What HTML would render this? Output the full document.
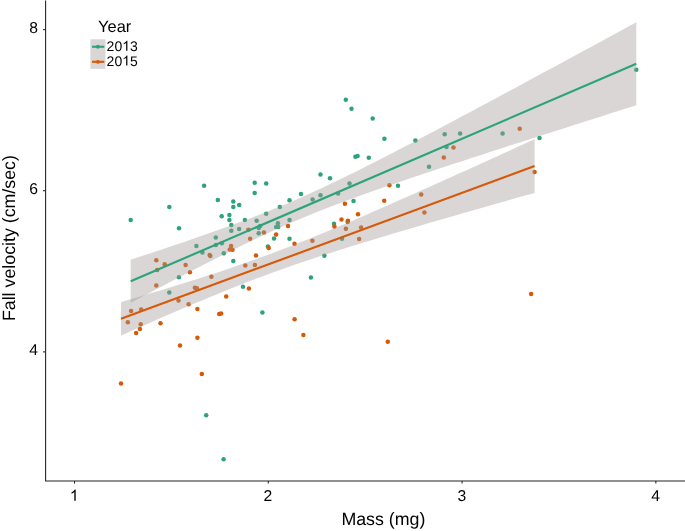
<!DOCTYPE html><html><head><meta charset="utf-8"><style>html,body{margin:0;padding:0;background:#fff;overflow:hidden}svg{display:block;will-change:transform}text{font-family:"Liberation Sans",sans-serif;text-rendering:geometricPrecision}</style></head><body>
<svg width="685" height="531" viewBox="0 0 685 531">
<rect width="685" height="531" fill="#fff"/>
<circle cx="636.3" cy="69.7" r="2.25" fill="#2DA37B"/>
<circle cx="502.6" cy="133.5" r="2.25" fill="#2DA37B"/>
<circle cx="539.5" cy="137.9" r="2.25" fill="#2DA37B"/>
<circle cx="345.8" cy="99.7" r="2.25" fill="#2DA37B"/>
<circle cx="351.5" cy="108.8" r="2.25" fill="#2DA37B"/>
<circle cx="372.7" cy="118.5" r="2.25" fill="#2DA37B"/>
<circle cx="355.4" cy="156.8" r="2.25" fill="#2DA37B"/>
<circle cx="357.6" cy="156.0" r="2.25" fill="#2DA37B"/>
<circle cx="368.8" cy="157.8" r="2.25" fill="#2DA37B"/>
<circle cx="384.4" cy="138.8" r="2.25" fill="#2DA37B"/>
<circle cx="415.4" cy="140.5" r="2.25" fill="#2DA37B"/>
<circle cx="444.7" cy="134.3" r="2.25" fill="#2DA37B"/>
<circle cx="460.1" cy="133.5" r="2.25" fill="#2DA37B"/>
<circle cx="446.5" cy="147.0" r="2.25" fill="#2DA37B"/>
<circle cx="429.0" cy="166.7" r="2.25" fill="#2DA37B"/>
<circle cx="398.0" cy="185.8" r="2.25" fill="#2DA37B"/>
<circle cx="169.3" cy="206.9" r="2.25" fill="#2DA37B"/>
<circle cx="130.7" cy="220.0" r="2.25" fill="#2DA37B"/>
<circle cx="179.0" cy="228.3" r="2.25" fill="#2DA37B"/>
<circle cx="196.4" cy="246.1" r="2.25" fill="#2DA37B"/>
<circle cx="204.1" cy="185.8" r="2.25" fill="#2DA37B"/>
<circle cx="254.7" cy="182.7" r="2.25" fill="#2DA37B"/>
<circle cx="266.2" cy="183.6" r="2.25" fill="#2DA37B"/>
<circle cx="254.7" cy="193.1" r="2.25" fill="#2DA37B"/>
<circle cx="217.8" cy="200.1" r="2.25" fill="#2DA37B"/>
<circle cx="233.3" cy="201.5" r="2.25" fill="#2DA37B"/>
<circle cx="239.2" cy="204.9" r="2.25" fill="#2DA37B"/>
<circle cx="233.3" cy="207.0" r="2.25" fill="#2DA37B"/>
<circle cx="221.7" cy="216.3" r="2.25" fill="#2DA37B"/>
<circle cx="229.4" cy="215.0" r="2.25" fill="#2DA37B"/>
<circle cx="229.4" cy="220.1" r="2.25" fill="#2DA37B"/>
<circle cx="244.9" cy="220.1" r="2.25" fill="#2DA37B"/>
<circle cx="231.3" cy="225.1" r="2.25" fill="#2DA37B"/>
<circle cx="256.7" cy="220.8" r="2.25" fill="#2DA37B"/>
<circle cx="231.3" cy="230.7" r="2.25" fill="#2DA37B"/>
<circle cx="239.1" cy="228.9" r="2.25" fill="#2DA37B"/>
<circle cx="215.8" cy="237.5" r="2.25" fill="#2DA37B"/>
<circle cx="258.8" cy="228.0" r="2.25" fill="#2DA37B"/>
<circle cx="258.7" cy="233.2" r="2.25" fill="#2DA37B"/>
<circle cx="266.2" cy="213.7" r="2.25" fill="#2DA37B"/>
<circle cx="320.5" cy="174.4" r="2.25" fill="#2DA37B"/>
<circle cx="301.0" cy="193.9" r="2.25" fill="#2DA37B"/>
<circle cx="289.5" cy="200.2" r="2.25" fill="#2DA37B"/>
<circle cx="279.8" cy="207.0" r="2.25" fill="#2DA37B"/>
<circle cx="312.6" cy="199.4" r="2.25" fill="#2DA37B"/>
<circle cx="320.5" cy="195.2" r="2.25" fill="#2DA37B"/>
<circle cx="289.5" cy="220.1" r="2.25" fill="#2DA37B"/>
<circle cx="277.9" cy="223.2" r="2.25" fill="#2DA37B"/>
<circle cx="276.1" cy="227.1" r="2.25" fill="#2DA37B"/>
<circle cx="278.2" cy="227.1" r="2.25" fill="#2DA37B"/>
<circle cx="260.2" cy="226.0" r="2.25" fill="#2DA37B"/>
<circle cx="274.0" cy="238.5" r="2.25" fill="#2DA37B"/>
<circle cx="289.5" cy="238.8" r="2.25" fill="#2DA37B"/>
<circle cx="178.9" cy="277.2" r="2.25" fill="#2DA37B"/>
<circle cx="169.3" cy="292.6" r="2.25" fill="#2DA37B"/>
<circle cx="215.9" cy="244.9" r="2.25" fill="#2DA37B"/>
<circle cx="221.9" cy="243.2" r="2.25" fill="#2DA37B"/>
<circle cx="202.4" cy="252.4" r="2.25" fill="#2DA37B"/>
<circle cx="210.3" cy="256.0" r="2.25" fill="#2DA37B"/>
<circle cx="223.8" cy="253.3" r="2.25" fill="#2DA37B"/>
<circle cx="233.3" cy="261.0" r="2.25" fill="#2DA37B"/>
<circle cx="243.0" cy="286.7" r="2.25" fill="#2DA37B"/>
<circle cx="267.9" cy="246.6" r="2.25" fill="#2DA37B"/>
<circle cx="310.9" cy="277.6" r="2.25" fill="#2DA37B"/>
<circle cx="330.0" cy="178.3" r="2.25" fill="#2DA37B"/>
<circle cx="349.5" cy="183.5" r="2.25" fill="#2DA37B"/>
<circle cx="338.1" cy="193.4" r="2.25" fill="#2DA37B"/>
<circle cx="353.5" cy="201.0" r="2.25" fill="#2DA37B"/>
<circle cx="347.6" cy="222.1" r="2.25" fill="#2DA37B"/>
<circle cx="334.0" cy="223.7" r="2.25" fill="#2DA37B"/>
<circle cx="342.0" cy="238.8" r="2.25" fill="#2DA37B"/>
<circle cx="324.4" cy="255.7" r="2.25" fill="#2DA37B"/>
<circle cx="262.4" cy="312.4" r="2.25" fill="#2DA37B"/>
<circle cx="206.2" cy="415.2" r="2.25" fill="#2DA37B"/>
<circle cx="223.6" cy="459.2" r="2.25" fill="#2DA37B"/>
<circle cx="519.7" cy="128.8" r="2.25" fill="#D65908"/>
<circle cx="534.6" cy="172.1" r="2.25" fill="#D65908"/>
<circle cx="453.5" cy="147.5" r="2.25" fill="#D65908"/>
<circle cx="443.8" cy="157.6" r="2.25" fill="#D65908"/>
<circle cx="389.4" cy="185.2" r="2.25" fill="#D65908"/>
<circle cx="421.2" cy="194.5" r="2.25" fill="#D65908"/>
<circle cx="424.4" cy="212.4" r="2.25" fill="#D65908"/>
<circle cx="384.2" cy="200.8" r="2.25" fill="#D65908"/>
<circle cx="248.4" cy="229.7" r="2.25" fill="#D65908"/>
<circle cx="250.1" cy="238.8" r="2.25" fill="#D65908"/>
<circle cx="263.9" cy="232.6" r="2.25" fill="#D65908"/>
<circle cx="288.0" cy="225.9" r="2.25" fill="#D65908"/>
<circle cx="276.1" cy="234.5" r="2.25" fill="#D65908"/>
<circle cx="156.3" cy="260.3" r="2.25" fill="#D65908"/>
<circle cx="164.7" cy="264.3" r="2.25" fill="#D65908"/>
<circle cx="157.2" cy="269.9" r="2.25" fill="#D65908"/>
<circle cx="185.6" cy="265.1" r="2.25" fill="#D65908"/>
<circle cx="156.3" cy="285.6" r="2.25" fill="#D65908"/>
<circle cx="178.5" cy="300.5" r="2.25" fill="#D65908"/>
<circle cx="231.1" cy="246.1" r="2.25" fill="#D65908"/>
<circle cx="229.8" cy="249.5" r="2.25" fill="#D65908"/>
<circle cx="232.5" cy="249.8" r="2.25" fill="#D65908"/>
<circle cx="209.6" cy="255.0" r="2.25" fill="#D65908"/>
<circle cx="189.9" cy="272.2" r="2.25" fill="#D65908"/>
<circle cx="245.3" cy="265.6" r="2.25" fill="#D65908"/>
<circle cx="211.4" cy="276.7" r="2.25" fill="#D65908"/>
<circle cx="194.9" cy="287.7" r="2.25" fill="#D65908"/>
<circle cx="196.9" cy="288.3" r="2.25" fill="#D65908"/>
<circle cx="248.9" cy="288.4" r="2.25" fill="#D65908"/>
<circle cx="226.2" cy="296.6" r="2.25" fill="#D65908"/>
<circle cx="294.5" cy="243.7" r="2.25" fill="#D65908"/>
<circle cx="268.7" cy="247.9" r="2.25" fill="#D65908"/>
<circle cx="256.0" cy="255.5" r="2.25" fill="#D65908"/>
<circle cx="312.4" cy="240.8" r="2.25" fill="#D65908"/>
<circle cx="254.9" cy="265.1" r="2.25" fill="#D65908"/>
<circle cx="344.9" cy="203.7" r="2.25" fill="#D65908"/>
<circle cx="358.0" cy="214.2" r="2.25" fill="#D65908"/>
<circle cx="341.5" cy="219.6" r="2.25" fill="#D65908"/>
<circle cx="347.9" cy="220.8" r="2.25" fill="#D65908"/>
<circle cx="334.4" cy="226.5" r="2.25" fill="#D65908"/>
<circle cx="345.9" cy="228.7" r="2.25" fill="#D65908"/>
<circle cx="361.1" cy="227.6" r="2.25" fill="#D65908"/>
<circle cx="359.1" cy="239.1" r="2.25" fill="#D65908"/>
<circle cx="131.1" cy="311.1" r="2.25" fill="#D65908"/>
<circle cx="141.2" cy="309.5" r="2.25" fill="#D65908"/>
<circle cx="127.8" cy="322.3" r="2.25" fill="#D65908"/>
<circle cx="140.7" cy="324.3" r="2.25" fill="#D65908"/>
<circle cx="139.9" cy="329.0" r="2.25" fill="#D65908"/>
<circle cx="136.1" cy="333.0" r="2.25" fill="#D65908"/>
<circle cx="160.5" cy="323.3" r="2.25" fill="#D65908"/>
<circle cx="180.0" cy="345.5" r="2.25" fill="#D65908"/>
<circle cx="188.6" cy="304.2" r="2.25" fill="#D65908"/>
<circle cx="197.4" cy="309.1" r="2.25" fill="#D65908"/>
<circle cx="219.2" cy="314.0" r="2.25" fill="#D65908"/>
<circle cx="221.1" cy="313.6" r="2.25" fill="#D65908"/>
<circle cx="197.4" cy="337.7" r="2.25" fill="#D65908"/>
<circle cx="294.6" cy="319.2" r="2.25" fill="#D65908"/>
<circle cx="303.4" cy="335.1" r="2.25" fill="#D65908"/>
<circle cx="201.8" cy="374.0" r="2.25" fill="#D65908"/>
<circle cx="121.0" cy="383.6" r="2.25" fill="#D65908"/>
<circle cx="387.8" cy="341.8" r="2.25" fill="#D65908"/>
<circle cx="531.1" cy="294.0" r="2.25" fill="#D65908"/>
<polygon points="130.70,259.73 137.10,257.62 143.50,255.51 149.90,253.39 156.30,251.27 162.70,249.13 169.10,246.99 175.50,244.83 181.90,242.66 188.30,240.48 194.70,238.28 201.10,236.07 207.50,233.84 213.90,231.59 220.30,229.31 226.70,227.02 233.10,224.69 239.50,222.33 245.90,219.94 252.30,217.51 258.70,215.04 265.10,212.52 271.50,209.96 277.90,207.35 284.30,204.69 290.70,201.98 297.10,199.21 303.50,196.39 309.90,193.52 316.30,190.60 322.70,187.63 329.10,184.62 335.50,181.56 341.90,178.47 348.30,175.34 354.70,172.17 361.10,168.98 367.50,165.76 373.90,162.52 380.30,159.25 386.70,155.97 393.10,152.67 399.50,149.35 405.90,146.02 412.30,142.67 418.70,139.32 425.10,135.95 431.50,132.57 437.90,129.19 444.30,125.80 450.70,122.40 457.10,118.99 463.50,115.58 469.90,112.17 476.30,108.74 482.70,105.32 489.10,101.89 495.50,98.45 501.90,95.02 508.30,91.58 514.70,88.13 521.10,84.68 527.50,81.24 533.90,77.78 540.30,74.33 546.70,70.87 553.10,67.42 559.50,63.96 565.90,60.49 572.30,57.03 578.70,53.57 585.10,50.10 591.50,46.63 597.90,43.16 604.30,39.70 610.70,36.22 617.10,32.75 623.50,29.28 629.90,25.80 636.30,22.33 636.30,105.23 629.90,107.26 623.50,109.29 617.10,111.32 610.70,113.36 604.30,115.39 597.90,117.43 591.50,119.47 585.10,121.51 578.70,123.55 572.30,125.59 565.90,127.64 559.50,129.68 553.10,131.73 546.70,133.78 540.30,135.83 533.90,137.88 527.50,139.94 521.10,141.99 514.70,144.05 508.30,146.12 501.90,148.18 495.50,150.25 489.10,152.32 482.70,154.40 476.30,156.48 469.90,158.57 463.50,160.66 457.10,162.75 450.70,164.85 444.30,166.96 437.90,169.08 431.50,171.20 425.10,173.33 418.70,175.47 412.30,177.62 405.90,179.78 399.50,181.96 393.10,184.15 386.70,186.35 380.30,188.57 373.90,190.82 367.50,193.08 361.10,195.37 354.70,197.68 348.30,200.02 341.90,202.40 335.50,204.81 329.10,207.26 322.70,209.75 316.30,212.29 309.90,214.88 303.50,217.51 297.10,220.20 290.70,222.94 284.30,225.74 277.90,228.58 271.50,231.48 265.10,234.43 258.70,237.42 252.30,240.46 245.90,243.53 239.50,246.65 233.10,249.80 226.70,252.98 220.30,256.18 213.90,259.42 207.50,262.67 201.10,265.95 194.70,269.24 188.30,272.55 181.90,275.88 175.50,279.21 169.10,282.57 162.70,285.93 156.30,289.30 149.90,292.68 143.50,296.07 137.10,299.46 130.70,302.87" fill="#A09896" fill-opacity="0.4"/>
<line x1="130.70" y1="281.30" x2="636.30" y2="63.78" stroke="#2DA37B" stroke-width="2.1"/>
<polygon points="121.00,302.13 126.24,300.59 131.47,299.04 136.71,297.49 141.94,295.93 147.18,294.37 152.41,292.80 157.65,291.22 162.88,289.63 168.12,288.04 173.35,286.43 178.59,284.82 183.83,283.19 189.06,281.55 194.30,279.90 199.53,278.24 204.77,276.56 210.00,274.86 215.24,273.15 220.47,271.42 225.71,269.68 230.94,267.91 236.18,266.12 241.42,264.31 246.65,262.48 251.89,260.62 257.12,258.74 262.36,256.84 267.59,254.91 272.83,252.96 278.06,250.98 283.30,248.98 288.53,246.96 293.77,244.91 299.01,242.85 304.24,240.76 309.48,238.65 314.71,236.52 319.95,234.37 325.18,232.21 330.42,230.03 335.65,227.83 340.89,225.62 346.12,223.40 351.36,221.16 356.59,218.91 361.83,216.66 367.07,214.39 372.30,212.11 377.54,209.83 382.77,207.54 388.01,205.24 393.24,202.93 398.48,200.62 403.71,198.30 408.95,195.97 414.18,193.64 419.42,191.31 424.66,188.97 429.89,186.63 435.13,184.28 440.36,181.93 445.60,179.58 450.83,177.22 456.07,174.86 461.30,172.50 466.54,170.13 471.77,167.77 477.01,165.40 482.25,163.03 487.48,160.65 492.72,158.28 497.95,155.90 503.19,153.52 508.42,151.14 513.66,148.76 518.89,146.37 524.13,143.99 529.36,141.60 534.60,139.21 534.60,192.91 529.36,194.39 524.13,195.87 518.89,197.35 513.66,198.84 508.42,200.32 503.19,201.81 497.95,203.30 492.72,204.79 487.48,206.28 482.25,207.77 477.01,209.27 471.77,210.77 466.54,212.27 461.30,213.77 456.07,215.27 450.83,216.78 445.60,218.29 440.36,219.81 435.13,221.33 429.89,222.85 424.66,224.37 419.42,225.90 414.18,227.43 408.95,228.97 403.71,230.52 398.48,232.06 393.24,233.62 388.01,235.18 382.77,236.75 377.54,238.32 372.30,239.91 367.07,241.50 361.83,243.10 356.59,244.71 351.36,246.33 346.12,247.96 340.89,249.61 335.65,251.26 330.42,252.94 325.18,254.62 319.95,256.33 314.71,258.05 309.48,259.79 304.24,261.54 299.01,263.32 293.77,265.12 288.53,266.94 283.30,268.79 278.06,270.65 272.83,272.55 267.59,274.46 262.36,276.40 257.12,278.37 251.89,280.35 246.65,282.37 241.42,284.40 236.18,286.46 230.94,288.54 225.71,290.64 220.47,292.76 215.24,294.90 210.00,297.05 204.77,299.23 199.53,301.42 194.30,303.62 189.06,305.84 183.83,308.06 178.59,310.31 173.35,312.56 168.12,314.82 162.88,317.09 157.65,319.37 152.41,321.66 147.18,323.96 141.94,326.26 136.71,328.57 131.47,330.89 126.24,333.21 121.00,335.54" fill="#A09896" fill-opacity="0.4"/>
<line x1="121.00" y1="318.83" x2="534.60" y2="166.06" stroke="#D65908" stroke-width="2.1"/>
<path d="M45.6 0.6 V481.0 H690" fill="none" stroke="#222" stroke-width="1.07" stroke-linecap="butt"/>
<line x1="74.50" y1="481.0" x2="74.50" y2="483.6" stroke="#222" stroke-width="1.07"/>
<line x1="268.28" y1="481.0" x2="268.28" y2="483.6" stroke="#222" stroke-width="1.07"/>
<line x1="462.06" y1="481.0" x2="462.06" y2="483.6" stroke="#222" stroke-width="1.07"/>
<line x1="655.84" y1="481.0" x2="655.84" y2="483.6" stroke="#222" stroke-width="1.07"/>
<line x1="43.0" y1="29.65" x2="45.6" y2="29.65" stroke="#222" stroke-width="1.07"/>
<line x1="43.0" y1="190.7" x2="45.6" y2="190.7" stroke="#222" stroke-width="1.07"/>
<line x1="43.0" y1="351.9" x2="45.6" y2="351.9" stroke="#222" stroke-width="1.07"/>
<text x="38.0" y="33.05" font-size="15.7" text-anchor="end" fill="#000">8</text>
<text x="38.0" y="194.10" font-size="15.7" text-anchor="end" fill="#000">6</text>
<text x="38.0" y="355.30" font-size="15.7" text-anchor="end" fill="#000">4</text>
<path transform="translate(69.834,500.800) scale(0.007666,-0.007666)" d="M763 0H583V1147Q518 1085 412.5 1023T223 930V1104Q373 1175 485.5 1276T645 1472H763Z" fill="#000"/>
<text x="263.614" y="500.800" font-size="15.7" fill="#000">2</text>
<text x="457.394" y="500.800" font-size="15.7" fill="#000">3</text>
<text x="651.174" y="500.800" font-size="15.7" fill="#000">4</text>
<text x="383.4" y="524.8" font-size="17.8" text-anchor="middle" fill="#000">Mass (mg)</text>
<text transform="translate(15.1,238.1) rotate(-90)" font-size="17.8" text-anchor="middle" fill="#000">Fall velocity (cm/sec)</text>
<text x="98.1" y="31.55" font-size="16.4" fill="#000">Year</text>
<rect x="90.4" y="39.30" width="15.0" height="14.75" fill="#A09896" fill-opacity="0.4"/>
<line x1="92.00" y1="46.75" x2="104.30" y2="46.75" stroke="#2DA37B" stroke-width="2.1"/>
<circle cx="97.90" cy="46.75" r="1.9" fill="#2DA37B"/>
<text x="106.600" y="50.700" font-size="14" fill="#000">2</text><text x="114.386" y="50.700" font-size="14" fill="#000">0</text><path transform="translate(122.172,50.700) scale(0.006836,-0.006836)" d="M763 0H583V1147Q518 1085 412.5 1023T223 930V1104Q373 1175 485.5 1276T645 1472H763Z" fill="#000"/><text x="129.958" y="50.700" font-size="14" fill="#000">3</text>
<rect x="90.4" y="54.05" width="15.0" height="14.75" fill="#A09896" fill-opacity="0.4"/>
<line x1="92.00" y1="61.80" x2="104.30" y2="61.80" stroke="#D65908" stroke-width="2.1"/>
<circle cx="97.90" cy="61.80" r="1.9" fill="#D65908"/>
<text x="106.600" y="65.600" font-size="14" fill="#000">2</text><text x="114.386" y="65.600" font-size="14" fill="#000">0</text><path transform="translate(122.172,65.600) scale(0.006836,-0.006836)" d="M763 0H583V1147Q518 1085 412.5 1023T223 930V1104Q373 1175 485.5 1276T645 1472H763Z" fill="#000"/><text x="129.958" y="65.600" font-size="14" fill="#000">5</text>
</svg></body></html>
